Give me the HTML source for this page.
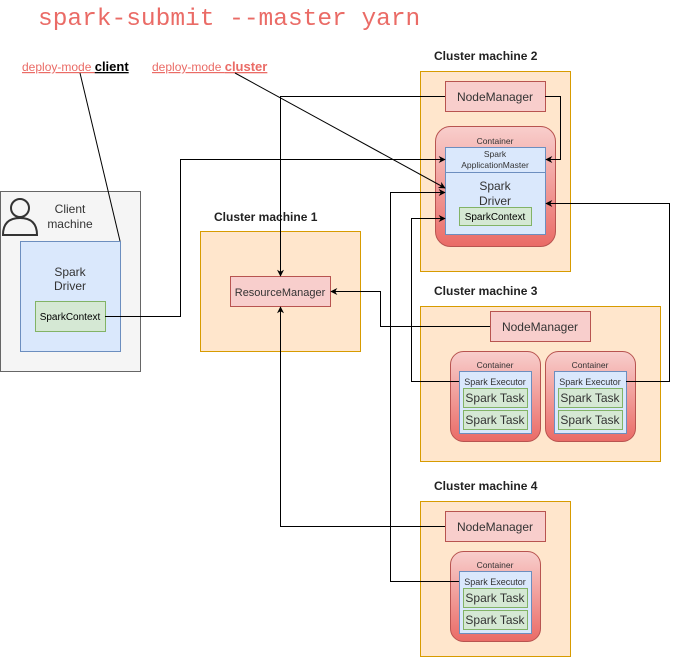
<!DOCTYPE html>
<html><head><meta charset="utf-8"><style>
html,body{margin:0;padding:0;background:#fff;}
svg{display:block;font-family:"Liberation Sans",sans-serif;}
</style></head><body>
<svg width="679" height="657" viewBox="0 0 679 657" xmlns="http://www.w3.org/2000/svg">
<defs>
<linearGradient id="cg" x1="0" y1="0" x2="0" y2="1"><stop offset="0" stop-color="#f8cecc"/><stop offset="1" stop-color="#ea6b66"/></linearGradient>
<marker id="ar" viewBox="0 0 10 10" refX="9" refY="5" markerWidth="7" markerHeight="7" orient="auto"><path d="M0,0 L10,5 L0,10 L3,5 Z" fill="#000"/></marker>
</defs>
<text x="38" y="25" font-family="Liberation Mono,monospace" font-size="24.5" fill="#ea6b66">spark-submit --master yarn</text>
<text x="22" y="71" font-size="12" fill="#ea6b66"><tspan text-decoration="underline">deploy-mode </tspan><tspan fill="#000" font-weight="bold" font-size="13" text-decoration="underline">client</tspan></text>
<text x="152" y="71" font-size="12" fill="#ea6b66" text-decoration="underline">deploy-mode <tspan font-weight="bold" font-size="13">cluster</tspan></text>

<!-- client machine -->
<rect x="0.5" y="191.5" width="140" height="180" fill="#f5f5f5" stroke="#666"/>
<circle cx="20" cy="208" r="9" fill="none" stroke="#333" stroke-width="2"/>
<path d="M3,235 Q3,218 20,218 Q37,218 37,235 Z" fill="none" stroke="#333" stroke-width="2"/>
<text x="70" y="213" font-size="12" text-anchor="middle" fill="#333">Client</text>
<text x="70" y="228" font-size="12" text-anchor="middle" fill="#333">machine</text>
<rect x="20.5" y="241.5" width="100" height="110" fill="#dae8fc" stroke="#6c8ebf"/>
<text x="70" y="276" font-size="12" text-anchor="middle" fill="#333">Spark</text>
<text x="70" y="290" font-size="12" text-anchor="middle" fill="#333">Driver</text>
<rect x="35.5" y="301.5" width="70" height="30" fill="#d5e8d4" stroke="#82b366"/>
<text x="70" y="320" font-size="10" text-anchor="middle">SparkContext</text>

<!-- cluster 1 -->
<text x="214" y="221" font-size="12" font-weight="bold" fill="#222">Cluster machine 1</text>
<rect x="200.5" y="231.5" width="160" height="120" fill="#ffe6cc" stroke="#d79b00"/>
<rect x="230.5" y="276.5" width="100" height="30" fill="#f8cecc" stroke="#b85450"/>
<text x="280" y="296" font-size="11" text-anchor="middle" fill="#333">ResourceManager</text>

<!-- cluster 2 -->
<text x="434" y="60" font-size="12" font-weight="bold" fill="#222">Cluster machine 2</text>
<rect x="420.5" y="71.5" width="150" height="200" fill="#ffe6cc" stroke="#d79b00"/>
<rect x="445.5" y="81.5" width="100" height="30" fill="#f8cecc" stroke="#b85450"/>
<text x="495" y="101" font-size="12" text-anchor="middle" fill="#333">NodeManager</text>
<rect x="435.5" y="126.5" width="120" height="120" rx="15" fill="url(#cg)" stroke="#b85450"/>
<text x="495" y="144" font-size="8.5" text-anchor="middle" fill="#333">Container</text>
<rect x="445.5" y="147.5" width="100" height="25" fill="#dae8fc" stroke="#6c8ebf"/>
<text x="495" y="157" font-size="8.5" text-anchor="middle" fill="#333">Spark</text>
<text x="495" y="168" font-size="8.5" text-anchor="middle" fill="#333">ApplicationMaster</text>
<rect x="445.5" y="172.5" width="100" height="62" fill="#dae8fc" stroke="#6c8ebf"/>
<text x="495" y="190" font-size="12" text-anchor="middle" fill="#333">Spark</text>
<text x="495" y="205" font-size="12" text-anchor="middle" fill="#333">Driver</text>
<rect x="459.5" y="207.5" width="72" height="18" fill="#d5e8d4" stroke="#82b366"/>
<text x="495" y="220" font-size="10" text-anchor="middle">SparkContext</text>

<!-- cluster 3 -->
<text x="434" y="295" font-size="12" font-weight="bold" fill="#222">Cluster machine 3</text>
<rect x="420.5" y="306.5" width="240" height="155" fill="#ffe6cc" stroke="#d79b00"/>
<rect x="490.5" y="311.5" width="100" height="30" fill="#f8cecc" stroke="#b85450"/>
<text x="540" y="331" font-size="12" text-anchor="middle" fill="#333">NodeManager</text>
<g id="c3a">
<rect x="450.5" y="351.5" width="90" height="90" rx="13" fill="url(#cg)" stroke="#b85450"/>
<text x="495" y="368" font-size="8.5" text-anchor="middle" fill="#333">Container</text>
<rect x="459.5" y="371.5" width="72" height="62" fill="#dae8fc" stroke="#6c8ebf"/>
<text x="495" y="385" font-size="9" text-anchor="middle" fill="#333">Spark Executor</text>
<rect x="463.5" y="388.5" width="64" height="19" fill="#d5e8d4" stroke="#82b366"/>
<text x="495" y="402" font-size="12" text-anchor="middle" fill="#333">Spark Task</text>
<rect x="463.5" y="410.5" width="64" height="19" fill="#d5e8d4" stroke="#82b366"/>
<text x="495" y="424" font-size="12" text-anchor="middle" fill="#333">Spark Task</text>
</g>
<use href="#c3a" x="95"/>

<!-- cluster 4 -->
<text x="434" y="490" font-size="12" font-weight="bold" fill="#222">Cluster machine 4</text>
<rect x="420.5" y="501.5" width="150" height="155" fill="#ffe6cc" stroke="#d79b00"/>
<rect x="445.5" y="511.5" width="100" height="30" fill="#f8cecc" stroke="#b85450"/>
<text x="495" y="531" font-size="12" text-anchor="middle" fill="#333">NodeManager</text>
<use href="#c3a" y="200"/>

<!-- connectors -->
<g fill="none" stroke="#000" stroke-width="1">
<line x1="80" y1="73" x2="120" y2="241"/>
<line x1="235" y1="73" x2="445" y2="188" marker-end="url(#ar)"/>
<polyline points="445,96.5 280.5,96.5 280.5,276" marker-end="url(#ar)"/>
<polyline points="545,96.5 560.5,96.5 560.5,159.5 546,159.5" marker-end="url(#ar)"/>
<polyline points="105,316.5 180.5,316.5 180.5,159.5 445,159.5" marker-end="url(#ar)"/>
<polyline points="459,381.5 411.5,381.5 411.5,218.5 445,218.5" marker-end="url(#ar)"/>
<polyline points="626,381.5 669.5,381.5 669.5,203.5 546,203.5" marker-end="url(#ar)"/>
<polyline points="490,326.5 380.5,326.5 380.5,291.5 331,291.5" marker-end="url(#ar)"/>
<polyline points="445,526.5 280.5,526.5 280.5,307" marker-end="url(#ar)"/>
<polyline points="459,581.5 390.5,581.5 390.5,192.5 445,192.5" marker-end="url(#ar)"/>
</g>
</svg>
</body></html>
